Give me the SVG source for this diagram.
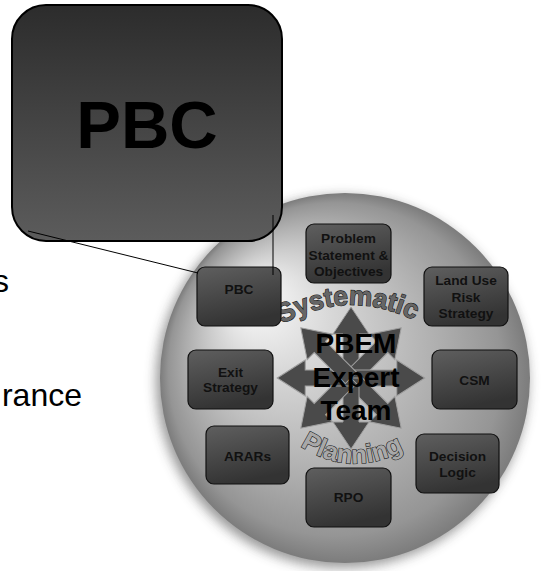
<svg xmlns="http://www.w3.org/2000/svg" xmlns:xlink="http://www.w3.org/1999/xlink" width="543" height="571" viewBox="0 0 543 571">
  <style>
    .box { stroke: #111; stroke-width: 1.2; fill: url(#boxFill); }
    .lbl { font-family: "Liberation Sans", Arial, sans-serif; font-weight: bold; font-size: 13.7px; fill: #111; text-anchor: middle; }
    .core { font-family: "Liberation Sans", Arial, sans-serif; font-weight: bold; font-size: 28px; fill: #000; text-anchor: middle; }
    .arc { font-family: "Liberation Sans", Arial, sans-serif; font-weight: bold; stroke-width: 1.2; paint-order: stroke; }
    .side { font-family: "Liberation Sans", Arial, sans-serif; font-size: 32px; fill: #000; text-anchor: end; }
    .conn { stroke: #000; stroke-width: 1; fill: none; }
  </style>
  <defs>
    <radialGradient id="sphere" gradientUnits="userSpaceOnUse" cx="345" cy="378" r="185" fx="245" fy="290">
      <stop offset="0" stop-color="#ffffff"/>
      <stop offset="0.3" stop-color="#d8d8d8"/>
      <stop offset="0.7" stop-color="#acacac"/>
      <stop offset="0.9" stop-color="#959595"/>
      <stop offset="1" stop-color="#7c7c7c"/>
    </radialGradient>
    <linearGradient id="boxFill" x1="0" y1="0" x2="0.3" y2="1">
      <stop offset="0" stop-color="#5f5f5f"/>
      <stop offset="1" stop-color="#333333"/>
    </linearGradient>
    <linearGradient id="bigFill" x1="0" y1="0" x2="0" y2="1">
      <stop offset="0" stop-color="#2c2c2c"/>
      <stop offset="1" stop-color="#5c5c5c"/>
    </linearGradient>
    <filter id="soft" x="-20%" y="-20%" width="140%" height="140%">
      <feGaussianBlur stdDeviation="6"/>
    </filter>
    <!-- one arrow of the star, pointing up from the origin -->
    <path id="arrow" d="M -8 0 L -8 -44 L -18 -44 L 0 -71 L 18 -44 L 8 -44 L 8 0 Z"/>
    <path id="arcTop" d="M 282 324 Q 351 286 422 324"/>
    <path id="arcBottom" d="M 300 446 Q 356 482 414 444"/>
  </defs>

  <!-- side text, cut at the left edge -->
  <text class="side" x="9" y="292">s</text>
  <text class="side" x="82" y="406">rance</text>

  <!-- sphere with soft drop shadow -->
  <g id="sphere-bg">
    <circle cx="342" cy="382" r="186" fill="#444" opacity="0.55" filter="url(#soft)"/>
    <circle cx="345" cy="378" r="185" fill="url(#sphere)"/>
  </g>

  <!-- eight-way star -->
  <g id="star" fill="#4a4a4a" stroke="#a0a0a0" stroke-width="1" transform="translate(351 378)">
    <use xlink:href="#arrow" transform="rotate(0)"/>
    <use xlink:href="#arrow" transform="rotate(45)"/>
    <use xlink:href="#arrow" transform="rotate(90) scale(1 1.04)"/>
    <use xlink:href="#arrow" transform="rotate(135)"/>
    <use xlink:href="#arrow" transform="rotate(180)"/>
    <use xlink:href="#arrow" transform="rotate(225)"/>
    <use xlink:href="#arrow" transform="rotate(270) scale(1 1.04)"/>
    <use xlink:href="#arrow" transform="rotate(315)"/>
  </g>

  <!-- arched words -->
  <text class="arc" font-size="27" fill="#666" stroke="#1a1a1a"><textPath xlink:href="#arcTop" textLength="138" lengthAdjust="spacingAndGlyphs">Systematic</textPath></text>
  <text class="arc" font-size="26" fill="#a8a8a8" stroke="#222"><textPath xlink:href="#arcBottom" textLength="110" lengthAdjust="spacingAndGlyphs">Planning</textPath></text>

  <g id="team">
    <text class="core" x="356" y="353">PBEM</text>
    <text class="core" x="356" y="387">Expert</text>
    <text class="core" x="356" y="420">Team</text>
  </g>

  <!-- surrounding topic boxes -->
  <g id="problem">
    <rect class="box" x="306" y="224" width="85" height="59" rx="8"/>
    <text class="lbl" x="348.5" y="243">Problem</text>
    <text class="lbl" x="348.5" y="259.5">Statement &amp;</text>
    <text class="lbl" x="348.5" y="276">Objectives</text>
  </g>
  <g id="pbc-small">
    <rect class="box" x="197" y="267" width="84" height="59" rx="8"/>
    <text class="lbl" x="239" y="294">PBC</text>
  </g>
  <g id="landuse">
    <rect class="box" x="424" y="267" width="84" height="59" rx="8"/>
    <text class="lbl" x="466" y="285">Land Use</text>
    <text class="lbl" x="466" y="301.5">Risk</text>
    <text class="lbl" x="466" y="318">Strategy</text>
  </g>
  <g id="exit">
    <rect class="box" x="188" y="350" width="85" height="59" rx="8"/>
    <text class="lbl" x="230.5" y="377">Exit</text>
    <text class="lbl" x="230.5" y="392">Strategy</text>
  </g>
  <g id="csm">
    <rect class="box" x="432" y="350" width="85" height="59" rx="8"/>
    <text class="lbl" x="474.5" y="385">CSM</text>
  </g>
  <g id="arars">
    <rect class="box" x="206" y="426" width="83" height="58" rx="8"/>
    <text class="lbl" x="247.5" y="461">ARARs</text>
  </g>
  <g id="decision">
    <rect class="box" x="416" y="434" width="83" height="59" rx="8"/>
    <text class="lbl" x="457.5" y="461">Decision</text>
    <text class="lbl" x="457.5" y="477">Logic</text>
  </g>
  <g id="rpo">
    <rect class="box" x="306" y="468" width="85" height="59" rx="8"/>
    <text class="lbl" x="348.5" y="502">RPO</text>
  </g>

  <!-- enlarged callout box -->
  <g id="pbc-large">
    <rect x="12" y="5" width="270" height="236" rx="34" fill="url(#bigFill)" stroke="#000" stroke-width="2"/>
    <text x="147" y="148" font-family="Liberation Sans, Arial, sans-serif" font-weight="bold" font-size="67" text-anchor="middle" fill="#000">PBC</text>
  </g>

  <!-- callout leader lines -->
  <g id="connectors">
    <line class="conn" x1="28" y1="231" x2="198" y2="273"/>
    <line class="conn" x1="273" y1="215" x2="273" y2="275"/>
  </g>
</svg>
